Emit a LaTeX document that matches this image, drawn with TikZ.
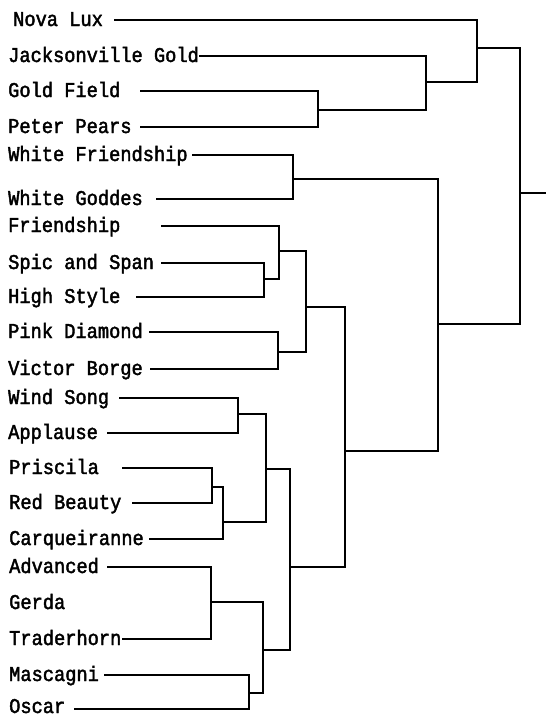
\documentclass[tikz,border=0pt]{standalone}
\usepackage{fontspec}
\newfontfamily\labfont[FakeStretch=0.89,FakeBold=2]{Liberation Mono}
\begin{document}
\begin{tikzpicture}[x=1pt,y=-1pt,
  leaf/.style={anchor=base west, inner sep=0pt, font=\labfont\fontsize{21}{25}\selectfont},
  branch/.style={line width=1.8pt, line cap=rect, line join=miter}]
\useasboundingbox (0,0) rectangle (558,716);
% labels
\node[leaf] (nova)     at (13,26)  {Nova Lux};
\node[leaf] (jack)     at (8,62)   {Jacksonville Gold};
\node[leaf] (goldf)    at (8,97)   {Gold Field};
\node[leaf] (peter)    at (8,133)  {Peter Pears};
\node[leaf] (whitef)   at (8,161)  {White Friendship};
\node[leaf] (whiteg)   at (8,205)  {White Goddes};
\node[leaf] (friend)   at (8,232)  {Friendship};
\node[leaf] (spic)     at (8,269)  {Spic and Span};
\node[leaf] (high)     at (8,303)  {High Style};
\node[leaf] (pink)     at (8,338)  {Pink Diamond};
\node[leaf] (victor)   at (8,375)  {Victor Borge};
\node[leaf] (wind)     at (8,404)  {Wind Song};
\node[leaf] (applause) at (8,439)  {Applause};
\node[leaf] (priscila) at (9,474)  {Priscila};
\node[leaf] (red)      at (9,509)  {Red Beauty};
\node[leaf] (carq)     at (9,545)  {Carqueiranne};
\node[leaf] (adv)      at (9,573)  {Advanced};
\node[leaf] (gerda)    at (9,609)  {Gerda};
\node[leaf] (trader)   at (9,645)  {Traderhorn};
\node[leaf] (mascagni) at (9,681)  {Mascagni};
\node[leaf] (oscar)    at (9,713)  {Oscar};
% leaf line starts
\coordinate (s-nova)     at (115,20);
\coordinate (s-jack)     at (200,56);
\coordinate (s-goldf)    at (141,91);
\coordinate (s-peter)    at (141,127);
\coordinate (s-whitef)   at (193,155);
\coordinate (s-whiteg)   at (157,199);
\coordinate (s-friend)   at (162,226);
\coordinate (s-spic)     at (162,263);
\coordinate (s-high)     at (137,297);
\coordinate (s-pink)     at (150,332);
\coordinate (s-victor)   at (151,369);
\coordinate (s-wind)     at (120,398);
\coordinate (s-applause) at (108,433);
\coordinate (s-priscila) at (123,468);
\coordinate (s-red)      at (133,503);
\coordinate (s-carq)     at (150,539);
\coordinate (s-adv)      at (108,567);
\coordinate (s-trader)   at (123,639);
\coordinate (s-mascagni) at (105,675);
\coordinate (s-oscar)    at (75,709);
% merge points
\coordinate (m2)  at (318,110);
\coordinate (m3)  at (426,82);
\coordinate (m4)  at (477,48);
\coordinate (m5)  at (293,179);
\coordinate (m6)  at (264,279);
\coordinate (m7)  at (279,251);
\coordinate (m8)  at (278,352);
\coordinate (m9)  at (306,307);
\coordinate (m10) at (238,414);
\coordinate (m11) at (212,487);
\coordinate (m12) at (223,522);
\coordinate (m13) at (266,469);
\coordinate (m14) at (211,602);
\coordinate (m15) at (249,693);
\coordinate (m16) at (263,650);
\coordinate (m17) at (290,567);
\coordinate (m18) at (345,451);
\coordinate (m19) at (438,324);
\coordinate (root) at (520,193);
\coordinate (rootend) at (545,193);
% branches
\draw[branch] (s-goldf) -| (m2) |- (s-peter);
\draw[branch] (s-jack) -| (m3) |- (m2);
\draw[branch] (s-nova) -| (m4) |- (m3);
\draw[branch] (s-whitef) -| (m5) |- (s-whiteg);
\draw[branch] (s-spic) -| (m6) |- (s-high);
\draw[branch] (s-friend) -| (m7) |- (m6);
\draw[branch] (s-pink) -| (m8) |- (s-victor);
\draw[branch] (m7) -| (m9) |- (m8);
\draw[branch] (s-wind) -| (m10) |- (s-applause);
\draw[branch] (s-priscila) -| (m11) |- (s-red);
\draw[branch] (m11) -| (m12) |- (s-carq);
\draw[branch] (m10) -| (m13) |- (m12);
\draw[branch] (s-adv) -| (m14) |- (s-trader);
\draw[branch] (s-mascagni) -| (m15) |- (s-oscar);
\draw[branch] (m14) -| (m16) |- (m15);
\draw[branch] (m13) -| (m17) |- (m16);
\draw[branch] (m9) -| (m18) |- (m17);
\draw[branch] (m5) -| (m19) |- (m18);
\draw[branch] (m4) -| (root) |- (m19);
\draw[branch] (root) -- (rootend);
\end{tikzpicture}
\end{document}
